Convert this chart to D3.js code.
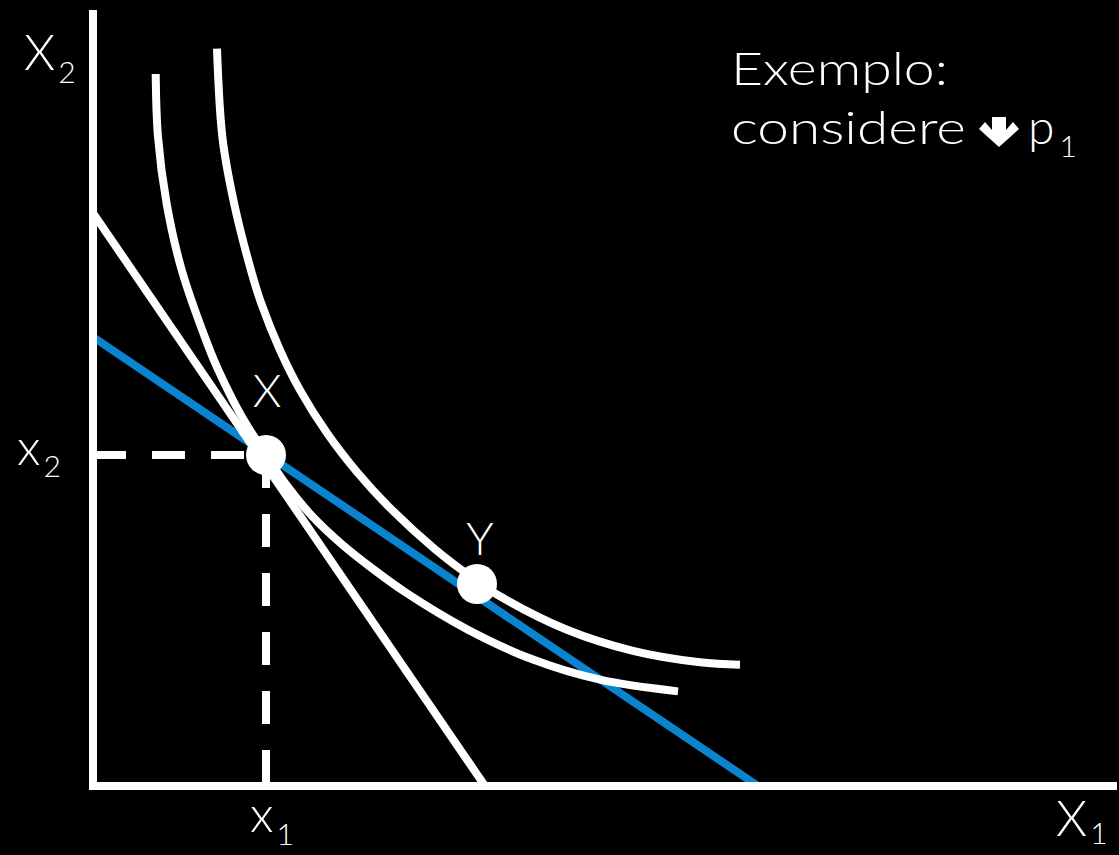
<!DOCTYPE html>
<html>
<head>
<meta charset="utf-8">
<script src="https://cdn.jsdelivr.net/npm/d3@7"></script>
<style>
    html, body { margin: 0; padding: 0; background: #000; }
    #chart { width: 1119px; height: 855px; }
    text { font-family: "Lato", "Open Sans", sans-serif; font-weight: 300; fill: #fff; }
</style>
</head>
<body>
<div id="chart"></div>
<script>
// indifference curves (x1, x2)
var curveU1 = [[0.627,7.12],[0.65,6.49],[0.737,5.82],[0.887,5.16],[1.137,4.44],[1.25,4.166],
    [1.47,3.726],[1.73,3.31],[1.95,2.99],[2.19,2.70],[2.48,2.425],[2.79,2.177],[3.12,1.94],
    [3.74,1.568],[4.40,1.264],[5.07,1.063],[5.85,0.946]];
var curveU2 = [[1.24,7.374],[1.297,6.462],[1.42,5.785],[1.59,5.122],[1.68,4.834],[1.87,4.359],
    [2.07,3.959],[2.34,3.53],[2.64,3.14],[2.95,2.80],[3.42,2.368],[3.84,2.049],[4.07,1.897],
    [4.74,1.562],[5.40,1.351],[6.07,1.237],[6.47,1.213]];

// budget lines: before (white) and after the fall in p1 (blue)
var budgetOld = [[0,5.73],[3.92,0]];
var budgetNew = [[0,4.49],[6.65,0]];

// chosen bundles
var bundleX = [1.73,3.31];
var bundleY = [3.84,2.02];

var axisMax = [10.25, 7.76];

(function () {
    var width = 1119,
        height = 855;

    var blue = "#0a84cf";

    var svg = d3.select("#chart")
        .append("svg")
        .attr("width", width)
        .attr("height", height)
        .style("background", "#000");

    var x = d3.scaleLinear().domain([0, axisMax[0]]).range([93, 1118]);
    var y = d3.scaleLinear().domain([0, axisMax[1]]).range([786, 10]);

    var line = d3.line()
        .x(function (d) { return x(d[0]); })
        .y(function (d) { return y(d[1]); });

    var smooth = d3.line()
        .curve(d3.curveCatmullRom.alpha(0.5))
        .x(function (d) { return x(d[0]); })
        .y(function (d) { return y(d[1]); });

    // budget lines
    svg.append("path")
        .attr("d", line(budgetNew))
        .attr("fill", "none")
        .attr("stroke", blue)
        .attr("stroke-width", 8);

    svg.append("path")
        .attr("d", line(budgetOld))
        .attr("fill", "none")
        .attr("stroke", "#fff")
        .attr("stroke-width", 8);

    // indifference curves
    svg.selectAll(".ic")
        .data([curveU1, curveU2])
        .enter().append("path")
        .attr("class", "ic")
        .attr("d", smooth)
        .attr("fill", "none")
        .attr("stroke", "#fff")
        .attr("stroke-width", 8);

    // dashed guides to the axes
    svg.append("line")
        .attr("x1", x(0)).attr("y1", y(bundleX[1]))
        .attr("x2", x(bundleX[0])).attr("y2", y(bundleX[1]))
        .attr("stroke", "#fff")
        .attr("stroke-width", 8)
        .attr("stroke-dasharray", "33,26");

    svg.append("line")
        .attr("x1", x(bundleX[0])).attr("y1", y(bundleX[1]))
        .attr("x2", x(bundleX[0])).attr("y2", y(0))
        .attr("stroke", "#fff")
        .attr("stroke-width", 8)
        .attr("stroke-dasharray", "33,26");

    // axes
    svg.append("line")
        .attr("x1", x(0)).attr("y1", y(axisMax[1]))
        .attr("x2", x(0)).attr("y2", y(0) + 4)
        .attr("stroke", "#fff")
        .attr("stroke-width", 8);

    svg.append("line")
        .attr("x1", x(0) - 4).attr("y1", y(0))
        .attr("x2", x(axisMax[0]) - 1).attr("y2", y(0))
        .attr("stroke", "#fff")
        .attr("stroke-width", 8);

    // bundles
    svg.selectAll(".bundle")
        .data([bundleX, bundleY])
        .enter().append("circle")
        .attr("class", "bundle")
        .attr("cx", function (d) { return x(d[0]); })
        .attr("cy", function (d) { return y(d[1]); })
        .attr("r", 20)
        .attr("fill", "#fff");

    svg.append("text")
        .attr("x", x(bundleX[0]) + 1)
        .attr("y", y(bundleX[1]) - 48)
        .attr("text-anchor", "middle")
        .attr("font-size", 46)
        .text("X");

    svg.append("text")
        .attr("x", x(bundleY[0]) + 3)
        .attr("y", y(bundleY[1]) - 29)
        .attr("text-anchor", "middle")
        .attr("font-size", 46)
        .text("Y");

    // axis labels with subscripts
    function subLabel(px, py, main, sub, size, dy) {
        var t = svg.append("text")
            .attr("x", px)
            .attr("y", py)
            .attr("font-size", size);
        t.append("tspan").text(main);
        t.append("tspan")
            .attr("font-size", 30)
            .attr("dx", 3)
            .attr("dy", dy)
            .text(sub);
    }

    subLabel(24, 70, "X", "2", 50, 13);
    subLabel(17, 465, "x", "2", 50, 12);
    subLabel(x(bundleX[0]) - 16, 832, "x", "1", 50, 13);
    subLabel(1056, 836, "X", "1", 50, 8);

    // note in the corner
    svg.append("text")
        .attr("x", 731)
        .attr("y", 85)
        .attr("font-size", 46)
        .attr("textLength", 217)
        .attr("lengthAdjust", "spacingAndGlyphs")
        .text("Exemplo:");

    svg.append("text")
        .attr("x", 731)
        .attr("y", 144)
        .attr("font-size", 46)
        .attr("textLength", 235)
        .attr("lengthAdjust", "spacingAndGlyphs")
        .text("considere");

    // thick down arrow
    svg.append("path")
        .attr("d", "M992,117 L1006,117 L1006,130 L1013,122 L1019,129 L999,147 L979,129 L985,122 L992,130 Z")
        .attr("fill", "#fff");

    svg.append("text")
        .attr("x", 1028)
        .attr("y", 144)
        .attr("font-size", 48)
        .text("p")
        .append("tspan")
        .attr("font-size", 30)
        .attr("dx", 5)
        .attr("dy", 13)
        .text("1");

})();
</script>
</body>
</html>
